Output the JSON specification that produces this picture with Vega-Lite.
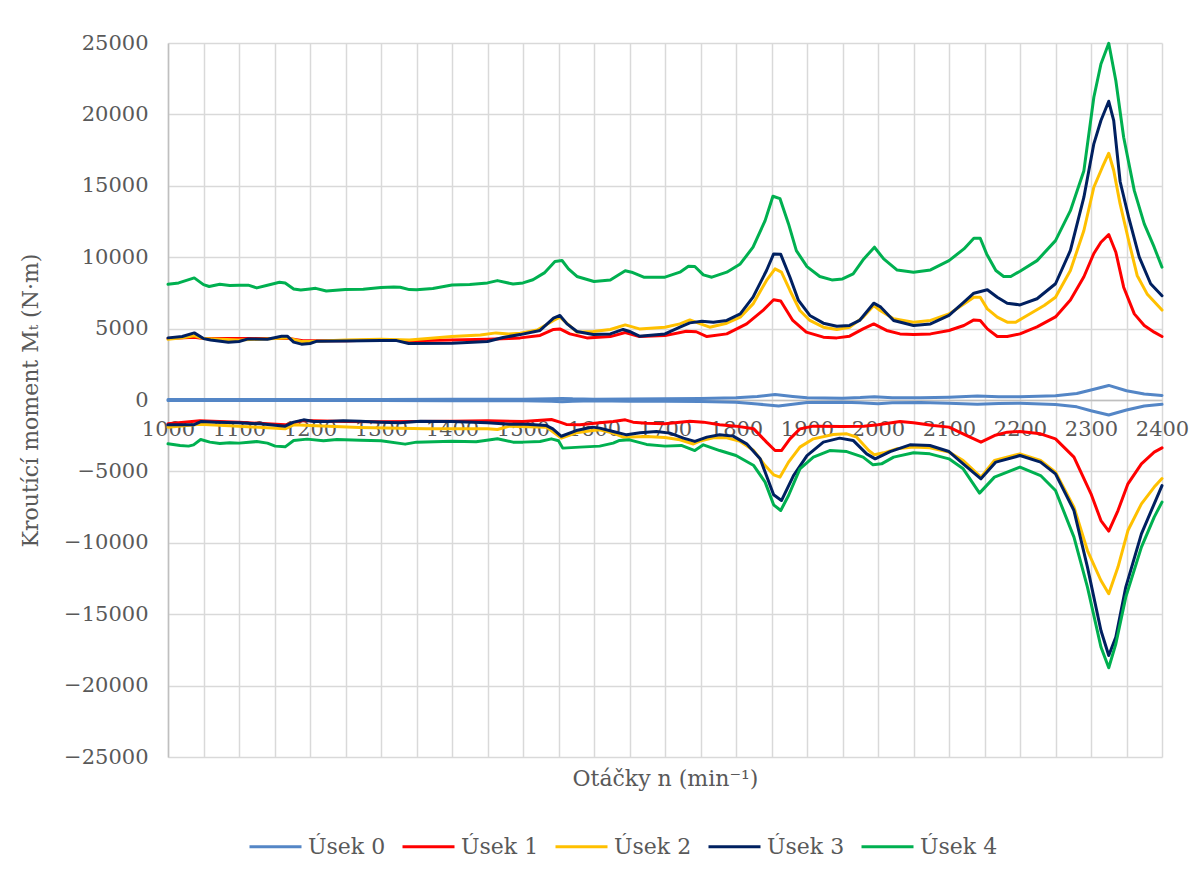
{
  "$schema": "https://vega.github.io/schema/vega-lite/v6.json",
  "width": 994,
  "height": 714,
  "autosize": {"type": "none"},
  "padding": {"left": 168, "top": 43, "right": 41, "bottom": 118},
  "background": "white",
  "config": {
    "view": {"stroke": null},
    "font": "DejaVu Serif"
  },
  "datasets": {
    "upper": [
      {"n":1000,"s":"Úsek 0","v":30},{"n":1100,"s":"Úsek 0","v":30},{"n":1200,"s":"Úsek 0","v":40},{"n":1300,"s":"Úsek 0","v":40},{"n":1400,"s":"Úsek 0","v":50},{"n":1500,"s":"Úsek 0","v":60},{"n":1540,"s":"Úsek 0","v":90},{"n":1555,"s":"Úsek 0","v":110},{"n":1570,"s":"Úsek 0","v":80},{"n":1600,"s":"Úsek 0","v":60},{"n":1650,"s":"Úsek 0","v":70},{"n":1700,"s":"Úsek 0","v":80},{"n":1750,"s":"Úsek 0","v":100},{"n":1800,"s":"Úsek 0","v":150},{"n":1830,"s":"Úsek 0","v":250},{"n":1855,"s":"Úsek 0","v":380},{"n":1880,"s":"Úsek 0","v":250},{"n":1900,"s":"Úsek 0","v":150},{"n":1950,"s":"Úsek 0","v":130},{"n":1975,"s":"Úsek 0","v":170},{"n":1995,"s":"Úsek 0","v":230},{"n":2020,"s":"Úsek 0","v":160},{"n":2060,"s":"Úsek 0","v":150},{"n":2100,"s":"Úsek 0","v":200},{"n":2140,"s":"Úsek 0","v":280},{"n":2170,"s":"Úsek 0","v":220},{"n":2200,"s":"Úsek 0","v":220},{"n":2250,"s":"Úsek 0","v":300},{"n":2280,"s":"Úsek 0","v":450},{"n":2300,"s":"Úsek 0","v":700},{"n":2325,"s":"Úsek 0","v":1020},{"n":2350,"s":"Úsek 0","v":650},{"n":2375,"s":"Úsek 0","v":420},{"n":2400,"s":"Úsek 0","v":320},

      {"n":1000,"s":"Úsek 1","v":4300},{"n":1037,"s":"Úsek 1","v":4400},{"n":1050,"s":"Úsek 1","v":4300},{"n":1100,"s":"Úsek 1","v":4300},{"n":1150,"s":"Úsek 1","v":4300},{"n":1170,"s":"Úsek 1","v":4300},{"n":1190,"s":"Úsek 1","v":4150},{"n":1250,"s":"Úsek 1","v":4150},{"n":1300,"s":"Úsek 1","v":4200},{"n":1340,"s":"Úsek 1","v":4150},{"n":1400,"s":"Úsek 1","v":4200},{"n":1450,"s":"Úsek 1","v":4250},{"n":1480,"s":"Úsek 1","v":4300},{"n":1496,"s":"Úsek 1","v":4350},{"n":1524,"s":"Úsek 1","v":4520},{"n":1543,"s":"Úsek 1","v":4940},{"n":1552,"s":"Úsek 1","v":4980},{"n":1566,"s":"Úsek 1","v":4630},{"n":1590,"s":"Úsek 1","v":4350},{"n":1623,"s":"Úsek 1","v":4440},{"n":1644,"s":"Úsek 1","v":4730},{"n":1664,"s":"Úsek 1","v":4440},{"n":1700,"s":"Úsek 1","v":4510},{"n":1730,"s":"Úsek 1","v":4820},{"n":1744,"s":"Úsek 1","v":4780},{"n":1759,"s":"Úsek 1","v":4440},{"n":1787,"s":"Úsek 1","v":4630},{"n":1815,"s":"Úsek 1","v":5330},{"n":1838,"s":"Úsek 1","v":6270},{"n":1853,"s":"Úsek 1","v":7020},{"n":1863,"s":"Úsek 1","v":6930},{"n":1880,"s":"Úsek 1","v":5570},{"n":1899,"s":"Úsek 1","v":4750},{"n":1923,"s":"Úsek 1","v":4400},{"n":1942,"s":"Úsek 1","v":4350},{"n":1960,"s":"Úsek 1","v":4470},{"n":1979,"s":"Úsek 1","v":4980},{"n":1994,"s":"Úsek 1","v":5330},{"n":2012,"s":"Úsek 1","v":4870},{"n":2031,"s":"Úsek 1","v":4630},{"n":2050,"s":"Úsek 1","v":4590},{"n":2074,"s":"Úsek 1","v":4630},{"n":2100,"s":"Úsek 1","v":4870},{"n":2121,"s":"Úsek 1","v":5220},{"n":2135,"s":"Úsek 1","v":5610},{"n":2144,"s":"Úsek 1","v":5570},{"n":2154,"s":"Úsek 1","v":4980},{"n":2168,"s":"Úsek 1","v":4450},{"n":2182,"s":"Úsek 1","v":4450},{"n":2200,"s":"Úsek 1","v":4630},{"n":2224,"s":"Úsek 1","v":5120},{"n":2250,"s":"Úsek 1","v":5820},{"n":2271,"s":"Úsek 1","v":7000},{"n":2290,"s":"Úsek 1","v":8630},{"n":2304,"s":"Úsek 1","v":10260},{"n":2314,"s":"Úsek 1","v":11050},{"n":2325,"s":"Úsek 1","v":11590},{"n":2335,"s":"Úsek 1","v":10350},{"n":2346,"s":"Úsek 1","v":7900},{"n":2361,"s":"Úsek 1","v":6030},{"n":2375,"s":"Úsek 1","v":5220},{"n":2389,"s":"Úsek 1","v":4750},{"n":2400,"s":"Úsek 1","v":4450},

      {"n":1000,"s":"Úsek 2","v":4250},{"n":1020,"s":"Úsek 2","v":4350},{"n":1037,"s":"Úsek 2","v":4500},{"n":1050,"s":"Úsek 2","v":4300},{"n":1100,"s":"Úsek 2","v":4200},{"n":1150,"s":"Úsek 2","v":4300},{"n":1168,"s":"Úsek 2","v":4350},{"n":1188,"s":"Úsek 2","v":4100},{"n":1200,"s":"Úsek 2","v":4100},{"n":1250,"s":"Úsek 2","v":4200},{"n":1300,"s":"Úsek 2","v":4250},{"n":1340,"s":"Úsek 2","v":4200},{"n":1400,"s":"Úsek 2","v":4450},{"n":1440,"s":"Úsek 2","v":4550},{"n":1462,"s":"Úsek 2","v":4700},{"n":1480,"s":"Úsek 2","v":4620},{"n":1496,"s":"Úsek 2","v":4680},{"n":1520,"s":"Úsek 2","v":4900},{"n":1543,"s":"Úsek 2","v":5570},{"n":1552,"s":"Úsek 2","v":5800},{"n":1576,"s":"Úsek 2","v":4750},{"n":1599,"s":"Úsek 2","v":4800},{"n":1623,"s":"Úsek 2","v":4940},{"n":1644,"s":"Úsek 2","v":5260},{"n":1664,"s":"Úsek 2","v":4980},{"n":1700,"s":"Úsek 2","v":5100},{"n":1721,"s":"Úsek 2","v":5330},{"n":1735,"s":"Úsek 2","v":5610},{"n":1749,"s":"Úsek 2","v":5350},{"n":1763,"s":"Úsek 2","v":5100},{"n":1787,"s":"Úsek 2","v":5380},{"n":1806,"s":"Úsek 2","v":5800},{"n":1824,"s":"Úsek 2","v":6730},{"n":1843,"s":"Úsek 2","v":8370},{"n":1855,"s":"Úsek 2","v":9180},{"n":1864,"s":"Úsek 2","v":8950},{"n":1876,"s":"Úsek 2","v":7670},{"n":1890,"s":"Úsek 2","v":6270},{"n":1904,"s":"Úsek 2","v":5570},{"n":1923,"s":"Úsek 2","v":5100},{"n":1942,"s":"Úsek 2","v":4940},{"n":1960,"s":"Úsek 2","v":5100},{"n":1979,"s":"Úsek 2","v":5800},{"n":1994,"s":"Úsek 2","v":6620},{"n":2003,"s":"Úsek 2","v":6270},{"n":2022,"s":"Úsek 2","v":5690},{"n":2050,"s":"Úsek 2","v":5450},{"n":2074,"s":"Úsek 2","v":5570},{"n":2100,"s":"Úsek 2","v":6030},{"n":2121,"s":"Úsek 2","v":6730},{"n":2135,"s":"Úsek 2","v":7200},{"n":2144,"s":"Úsek 2","v":7200},{"n":2154,"s":"Úsek 2","v":6380},{"n":2168,"s":"Úsek 2","v":5800},{"n":2182,"s":"Úsek 2","v":5450},{"n":2194,"s":"Úsek 2","v":5450},{"n":2210,"s":"Úsek 2","v":5920},{"n":2234,"s":"Úsek 2","v":6620},{"n":2250,"s":"Úsek 2","v":7200},{"n":2271,"s":"Úsek 2","v":9070},{"n":2290,"s":"Úsek 2","v":11870},{"n":2304,"s":"Úsek 2","v":14900},{"n":2316,"s":"Úsek 2","v":16300},{"n":2325,"s":"Úsek 2","v":17280},{"n":2332,"s":"Úsek 2","v":16070},{"n":2341,"s":"Úsek 2","v":13730},{"n":2353,"s":"Úsek 2","v":11170},{"n":2365,"s":"Úsek 2","v":8720},{"n":2379,"s":"Úsek 2","v":7430},{"n":2400,"s":"Úsek 2","v":6300},

      {"n":1000,"s":"Úsek 3","v":4350},{"n":1020,"s":"Úsek 3","v":4450},{"n":1037,"s":"Úsek 3","v":4700},{"n":1050,"s":"Úsek 3","v":4300},{"n":1060,"s":"Úsek 3","v":4200},{"n":1085,"s":"Úsek 3","v":4050},{"n":1100,"s":"Úsek 3","v":4100},{"n":1113,"s":"Úsek 3","v":4280},{"n":1140,"s":"Úsek 3","v":4260},{"n":1160,"s":"Úsek 3","v":4470},{"n":1168,"s":"Úsek 3","v":4470},{"n":1177,"s":"Úsek 3","v":4050},{"n":1188,"s":"Úsek 3","v":3910},{"n":1200,"s":"Úsek 3","v":3960},{"n":1210,"s":"Úsek 3","v":4120},{"n":1250,"s":"Úsek 3","v":4140},{"n":1300,"s":"Úsek 3","v":4160},{"n":1322,"s":"Úsek 3","v":4160},{"n":1339,"s":"Úsek 3","v":3960},{"n":1400,"s":"Úsek 3","v":3980},{"n":1450,"s":"Úsek 3","v":4100},{"n":1472,"s":"Úsek 3","v":4380},{"n":1496,"s":"Úsek 3","v":4580},{"n":1524,"s":"Úsek 3","v":4870},{"n":1543,"s":"Úsek 3","v":5730},{"n":1552,"s":"Úsek 3","v":5920},{"n":1562,"s":"Úsek 3","v":5330},{"n":1576,"s":"Úsek 3","v":4800},{"n":1599,"s":"Úsek 3","v":4590},{"n":1623,"s":"Úsek 3","v":4630},{"n":1641,"s":"Úsek 3","v":4940},{"n":1650,"s":"Úsek 3","v":4800},{"n":1664,"s":"Úsek 3","v":4470},{"n":1700,"s":"Úsek 3","v":4630},{"n":1721,"s":"Úsek 3","v":5100},{"n":1735,"s":"Úsek 3","v":5400},{"n":1752,"s":"Úsek 3","v":5520},{"n":1768,"s":"Úsek 3","v":5450},{"n":1787,"s":"Úsek 3","v":5570},{"n":1806,"s":"Úsek 3","v":6030},{"n":1824,"s":"Úsek 3","v":7200},{"n":1843,"s":"Úsek 3","v":9070},{"n":1853,"s":"Úsek 3","v":10230},{"n":1863,"s":"Úsek 3","v":10200},{"n":1876,"s":"Úsek 3","v":8600},{"n":1888,"s":"Úsek 3","v":6970},{"n":1904,"s":"Úsek 3","v":5920},{"n":1923,"s":"Úsek 3","v":5380},{"n":1942,"s":"Úsek 3","v":5170},{"n":1960,"s":"Úsek 3","v":5220},{"n":1974,"s":"Úsek 3","v":5570},{"n":1994,"s":"Úsek 3","v":6780},{"n":2004,"s":"Úsek 3","v":6500},{"n":2022,"s":"Úsek 3","v":5570},{"n":2050,"s":"Úsek 3","v":5220},{"n":2074,"s":"Úsek 3","v":5330},{"n":2100,"s":"Úsek 3","v":5920},{"n":2121,"s":"Úsek 3","v":6850},{"n":2135,"s":"Úsek 3","v":7480},{"n":2154,"s":"Úsek 3","v":7720},{"n":2168,"s":"Úsek 3","v":7200},{"n":2182,"s":"Úsek 3","v":6780},{"n":2200,"s":"Úsek 3","v":6660},{"n":2224,"s":"Úsek 3","v":7090},{"n":2250,"s":"Úsek 3","v":8140},{"n":2271,"s":"Úsek 3","v":10470},{"n":2290,"s":"Úsek 3","v":14200},{"n":2304,"s":"Úsek 3","v":17940},{"n":2314,"s":"Úsek 3","v":19570},{"n":2325,"s":"Úsek 3","v":20920},{"n":2332,"s":"Úsek 3","v":19570},{"n":2341,"s":"Úsek 3","v":15300},{"n":2353,"s":"Úsek 3","v":12800},{"n":2368,"s":"Úsek 3","v":10000},{"n":2384,"s":"Úsek 3","v":8140},{"n":2400,"s":"Úsek 3","v":7300},

      {"n":1000,"s":"Úsek 4","v":8100},{"n":1015,"s":"Úsek 4","v":8200},{"n":1037,"s":"Úsek 4","v":8550},{"n":1050,"s":"Úsek 4","v":8080},{"n":1058,"s":"Úsek 4","v":7950},{"n":1073,"s":"Úsek 4","v":8100},{"n":1087,"s":"Úsek 4","v":8020},{"n":1100,"s":"Úsek 4","v":8040},{"n":1113,"s":"Úsek 4","v":8040},{"n":1125,"s":"Úsek 4","v":7850},{"n":1140,"s":"Úsek 4","v":8040},{"n":1157,"s":"Úsek 4","v":8250},{"n":1165,"s":"Úsek 4","v":8200},{"n":1177,"s":"Úsek 4","v":7780},{"n":1187,"s":"Úsek 4","v":7700},{"n":1200,"s":"Úsek 4","v":7780},{"n":1208,"s":"Úsek 4","v":7820},{"n":1223,"s":"Úsek 4","v":7630},{"n":1250,"s":"Úsek 4","v":7730},{"n":1275,"s":"Úsek 4","v":7760},{"n":1300,"s":"Úsek 4","v":7880},{"n":1318,"s":"Úsek 4","v":7920},{"n":1327,"s":"Úsek 4","v":7900},{"n":1340,"s":"Úsek 4","v":7730},{"n":1350,"s":"Úsek 4","v":7720},{"n":1373,"s":"Úsek 4","v":7810},{"n":1400,"s":"Úsek 4","v":8050},{"n":1425,"s":"Úsek 4","v":8080},{"n":1450,"s":"Úsek 4","v":8200},{"n":1464,"s":"Úsek 4","v":8360},{"n":1486,"s":"Úsek 4","v":8120},{"n":1500,"s":"Úsek 4","v":8200},{"n":1514,"s":"Úsek 4","v":8420},{"n":1530,"s":"Úsek 4","v":8900},{"n":1545,"s":"Úsek 4","v":9700},{"n":1555,"s":"Úsek 4","v":9770},{"n":1564,"s":"Úsek 4","v":9180},{"n":1576,"s":"Úsek 4","v":8650},{"n":1600,"s":"Úsek 4","v":8300},{"n":1623,"s":"Úsek 4","v":8400},{"n":1644,"s":"Úsek 4","v":9050},{"n":1653,"s":"Úsek 4","v":8950},{"n":1670,"s":"Úsek 4","v":8600},{"n":1700,"s":"Úsek 4","v":8600},{"n":1721,"s":"Úsek 4","v":8950},{"n":1733,"s":"Úsek 4","v":9370},{"n":1742,"s":"Úsek 4","v":9350},{"n":1754,"s":"Úsek 4","v":8760},{"n":1766,"s":"Úsek 4","v":8600},{"n":1787,"s":"Úsek 4","v":8950},{"n":1806,"s":"Úsek 4","v":9530},{"n":1824,"s":"Úsek 4","v":10700},{"n":1841,"s":"Úsek 4","v":12560},{"n":1852,"s":"Úsek 4","v":14270},{"n":1862,"s":"Úsek 4","v":14100},{"n":1874,"s":"Úsek 4","v":12330},{"n":1885,"s":"Úsek 4","v":10460},{"n":1900,"s":"Úsek 4","v":9340},{"n":1918,"s":"Úsek 4","v":8650},{"n":1935,"s":"Úsek 4","v":8410},{"n":1950,"s":"Úsek 4","v":8480},{"n":1965,"s":"Úsek 4","v":8830},{"n":1980,"s":"Úsek 4","v":9880},{"n":1995,"s":"Úsek 4","v":10700},{"n":2008,"s":"Úsek 4","v":9880},{"n":2027,"s":"Úsek 4","v":9100},{"n":2050,"s":"Úsek 4","v":8950},{"n":2074,"s":"Úsek 4","v":9110},{"n":2100,"s":"Úsek 4","v":9760},{"n":2121,"s":"Úsek 4","v":10580},{"n":2135,"s":"Úsek 4","v":11330},{"n":2144,"s":"Úsek 4","v":11330},{"n":2153,"s":"Úsek 4","v":10230},{"n":2166,"s":"Úsek 4","v":9070},{"n":2177,"s":"Úsek 4","v":8650},{"n":2187,"s":"Úsek 4","v":8650},{"n":2200,"s":"Úsek 4","v":9020},{"n":2224,"s":"Úsek 4","v":9760},{"n":2250,"s":"Úsek 4","v":11160},{"n":2271,"s":"Úsek 4","v":13260},{"n":2290,"s":"Úsek 4","v":16060},{"n":2304,"s":"Úsek 4","v":21200},{"n":2314,"s":"Úsek 4","v":23530},{"n":2325,"s":"Úsek 4","v":24980},{"n":2335,"s":"Úsek 4","v":22360},{"n":2346,"s":"Úsek 4","v":18400},{"n":2361,"s":"Úsek 4","v":14660},{"n":2375,"s":"Úsek 4","v":12330},{"n":2389,"s":"Úsek 4","v":10700},{"n":2400,"s":"Úsek 4","v":9300}
    ],
    "lower": [
      {"n":1000,"s":"Úsek 0","v":-30},{"n":1100,"s":"Úsek 0","v":-30},{"n":1200,"s":"Úsek 0","v":-40},{"n":1300,"s":"Úsek 0","v":-40},{"n":1400,"s":"Úsek 0","v":-50},{"n":1500,"s":"Úsek 0","v":-60},{"n":1540,"s":"Úsek 0","v":-90},{"n":1555,"s":"Úsek 0","v":-130},{"n":1570,"s":"Úsek 0","v":-90},{"n":1600,"s":"Úsek 0","v":-60},{"n":1650,"s":"Úsek 0","v":-80},{"n":1700,"s":"Úsek 0","v":-90},{"n":1750,"s":"Úsek 0","v":-110},{"n":1800,"s":"Úsek 0","v":-160},{"n":1830,"s":"Úsek 0","v":-280},{"n":1860,"s":"Úsek 0","v":-420},{"n":1880,"s":"Úsek 0","v":-300},{"n":1900,"s":"Úsek 0","v":-180},{"n":1950,"s":"Úsek 0","v":-150},{"n":1975,"s":"Úsek 0","v":-200},{"n":2000,"s":"Úsek 0","v":-260},{"n":2020,"s":"Úsek 0","v":-200},{"n":2060,"s":"Úsek 0","v":-170},{"n":2100,"s":"Úsek 0","v":-220},{"n":2140,"s":"Úsek 0","v":-300},{"n":2170,"s":"Úsek 0","v":-240},{"n":2200,"s":"Úsek 0","v":-230},{"n":2250,"s":"Úsek 0","v":-320},{"n":2280,"s":"Úsek 0","v":-480},{"n":2300,"s":"Úsek 0","v":-750},{"n":2325,"s":"Úsek 0","v":-1050},{"n":2350,"s":"Úsek 0","v":-700},{"n":2375,"s":"Úsek 0","v":-420},{"n":2400,"s":"Úsek 0","v":-300},

      {"n":1000,"s":"Úsek 1","v":-1670},{"n":1045,"s":"Úsek 1","v":-1460},{"n":1100,"s":"Úsek 1","v":-1550},{"n":1165,"s":"Úsek 1","v":-1740},{"n":1190,"s":"Úsek 1","v":-1440},{"n":1250,"s":"Úsek 1","v":-1500},{"n":1300,"s":"Úsek 1","v":-1520},{"n":1400,"s":"Úsek 1","v":-1480},{"n":1450,"s":"Úsek 1","v":-1460},{"n":1500,"s":"Úsek 1","v":-1505},{"n":1540,"s":"Úsek 1","v":-1365},{"n":1552,"s":"Úsek 1","v":-1550},{"n":1561,"s":"Úsek 1","v":-1710},{"n":1580,"s":"Úsek 1","v":-1740},{"n":1608,"s":"Úsek 1","v":-1600},{"n":1627,"s":"Úsek 1","v":-1505},{"n":1644,"s":"Úsek 1","v":-1390},{"n":1655,"s":"Úsek 1","v":-1550},{"n":1674,"s":"Úsek 1","v":-1620},{"n":1700,"s":"Úsek 1","v":-1670},{"n":1735,"s":"Úsek 1","v":-1480},{"n":1754,"s":"Úsek 1","v":-1550},{"n":1777,"s":"Úsek 1","v":-1740},{"n":1800,"s":"Úsek 1","v":-1830},{"n":1825,"s":"Úsek 1","v":-2020},{"n":1843,"s":"Úsek 1","v":-2950},{"n":1855,"s":"Úsek 1","v":-3540},{"n":1864,"s":"Úsek 1","v":-3540},{"n":1876,"s":"Úsek 1","v":-2720},{"n":1890,"s":"Úsek 1","v":-2020},{"n":1909,"s":"Úsek 1","v":-1830},{"n":1950,"s":"Úsek 1","v":-1860},{"n":1980,"s":"Úsek 1","v":-1830},{"n":2000,"s":"Úsek 1","v":-1740},{"n":2031,"s":"Úsek 1","v":-1505},{"n":2050,"s":"Úsek 1","v":-1600},{"n":2078,"s":"Úsek 1","v":-1790},{"n":2100,"s":"Úsek 1","v":-1900},{"n":2125,"s":"Úsek 1","v":-2490},{"n":2145,"s":"Úsek 1","v":-2950},{"n":2164,"s":"Úsek 1","v":-2490},{"n":2182,"s":"Úsek 1","v":-2250},{"n":2200,"s":"Úsek 1","v":-2200},{"n":2229,"s":"Úsek 1","v":-2370},{"n":2250,"s":"Úsek 1","v":-2720},{"n":2276,"s":"Úsek 1","v":-4000},{"n":2300,"s":"Úsek 1","v":-6570},{"n":2314,"s":"Úsek 1","v":-8440},{"n":2325,"s":"Úsek 1","v":-9180},{"n":2338,"s":"Úsek 1","v":-7740},{"n":2352,"s":"Úsek 1","v":-5870},{"n":2371,"s":"Úsek 1","v":-4470},{"n":2389,"s":"Úsek 1","v":-3650},{"n":2400,"s":"Úsek 1","v":-3350},

      {"n":1000,"s":"Úsek 2","v":-1900},{"n":1045,"s":"Úsek 2","v":-1690},{"n":1100,"s":"Úsek 2","v":-1830},{"n":1165,"s":"Úsek 2","v":-2020},{"n":1177,"s":"Úsek 2","v":-1740},{"n":1200,"s":"Úsek 2","v":-1780},{"n":1270,"s":"Úsek 2","v":-1920},{"n":1364,"s":"Úsek 2","v":-2020},{"n":1450,"s":"Úsek 2","v":-2020},{"n":1464,"s":"Úsek 2","v":-2070},{"n":1481,"s":"Úsek 2","v":-1830},{"n":1533,"s":"Úsek 2","v":-1900},{"n":1554,"s":"Úsek 2","v":-2670},{"n":1575,"s":"Úsek 2","v":-2300},{"n":1598,"s":"Úsek 2","v":-2140},{"n":1608,"s":"Úsek 2","v":-2090},{"n":1627,"s":"Úsek 2","v":-2320},{"n":1641,"s":"Úsek 2","v":-2600},{"n":1674,"s":"Úsek 2","v":-2550},{"n":1700,"s":"Úsek 2","v":-2620},{"n":1721,"s":"Úsek 2","v":-2780},{"n":1740,"s":"Úsek 2","v":-3080},{"n":1749,"s":"Úsek 2","v":-2880},{"n":1768,"s":"Úsek 2","v":-2650},{"n":1787,"s":"Úsek 2","v":-2650},{"n":1806,"s":"Úsek 2","v":-2900},{"n":1825,"s":"Úsek 2","v":-3540},{"n":1841,"s":"Úsek 2","v":-4590},{"n":1853,"s":"Úsek 2","v":-5240},{"n":1862,"s":"Úsek 2","v":-5400},{"n":1874,"s":"Úsek 2","v":-4350},{"n":1890,"s":"Úsek 2","v":-3300},{"n":1909,"s":"Úsek 2","v":-2720},{"n":1937,"s":"Úsek 2","v":-2420},{"n":1956,"s":"Úsek 2","v":-2370},{"n":1970,"s":"Úsek 2","v":-2600},{"n":1987,"s":"Úsek 2","v":-3540},{"n":1995,"s":"Úsek 2","v":-3840},{"n":2008,"s":"Úsek 2","v":-3700},{"n":2026,"s":"Úsek 2","v":-3420},{"n":2050,"s":"Úsek 2","v":-3300},{"n":2073,"s":"Úsek 2","v":-3350},{"n":2100,"s":"Úsek 2","v":-3650},{"n":2120,"s":"Úsek 2","v":-4240},{"n":2145,"s":"Úsek 2","v":-5400},{"n":2164,"s":"Úsek 2","v":-4240},{"n":2200,"s":"Úsek 2","v":-3770},{"n":2229,"s":"Úsek 2","v":-4240},{"n":2250,"s":"Úsek 2","v":-5050},{"n":2276,"s":"Úsek 2","v":-7500},{"n":2295,"s":"Úsek 2","v":-10540},{"n":2314,"s":"Úsek 2","v":-12640},{"n":2325,"s":"Úsek 2","v":-13570},{"n":2338,"s":"Úsek 2","v":-11700},{"n":2352,"s":"Úsek 2","v":-9140},{"n":2371,"s":"Úsek 2","v":-7270},{"n":2389,"s":"Úsek 2","v":-6100},{"n":2400,"s":"Úsek 2","v":-5500},

      {"n":1000,"s":"Úsek 3","v":-1740},{"n":1036,"s":"Úsek 3","v":-1740},{"n":1047,"s":"Úsek 3","v":-1505},{"n":1068,"s":"Úsek 3","v":-1550},{"n":1100,"s":"Úsek 3","v":-1600},{"n":1130,"s":"Úsek 3","v":-1670},{"n":1165,"s":"Úsek 3","v":-1830},{"n":1177,"s":"Úsek 3","v":-1550},{"n":1191,"s":"Úsek 3","v":-1390},{"n":1205,"s":"Úsek 3","v":-1505},{"n":1224,"s":"Úsek 3","v":-1505},{"n":1247,"s":"Úsek 3","v":-1460},{"n":1271,"s":"Úsek 3","v":-1480},{"n":1300,"s":"Úsek 3","v":-1550},{"n":1327,"s":"Úsek 3","v":-1600},{"n":1355,"s":"Úsek 3","v":-1480},{"n":1400,"s":"Úsek 3","v":-1500},{"n":1450,"s":"Úsek 3","v":-1600},{"n":1481,"s":"Úsek 3","v":-1690},{"n":1505,"s":"Úsek 3","v":-1690},{"n":1533,"s":"Úsek 3","v":-1790},{"n":1542,"s":"Úsek 3","v":-2020},{"n":1554,"s":"Úsek 3","v":-2540},{"n":1575,"s":"Úsek 3","v":-2140},{"n":1598,"s":"Úsek 3","v":-1900},{"n":1608,"s":"Úsek 3","v":-1970},{"n":1627,"s":"Úsek 3","v":-2210},{"n":1646,"s":"Úsek 3","v":-2440},{"n":1665,"s":"Úsek 3","v":-2300},{"n":1688,"s":"Úsek 3","v":-2210},{"n":1707,"s":"Úsek 3","v":-2320},{"n":1726,"s":"Úsek 3","v":-2670},{"n":1742,"s":"Úsek 3","v":-2900},{"n":1759,"s":"Úsek 3","v":-2600},{"n":1777,"s":"Úsek 3","v":-2440},{"n":1796,"s":"Úsek 3","v":-2530},{"n":1815,"s":"Úsek 3","v":-3070},{"n":1834,"s":"Úsek 3","v":-4120},{"n":1853,"s":"Úsek 3","v":-6640},{"n":1864,"s":"Úsek 3","v":-7040},{"n":1881,"s":"Úsek 3","v":-5290},{"n":1900,"s":"Úsek 3","v":-3890},{"n":1923,"s":"Úsek 3","v":-2950},{"n":1946,"s":"Úsek 3","v":-2670},{"n":1965,"s":"Úsek 3","v":-2830},{"n":1984,"s":"Úsek 3","v":-3770},{"n":1996,"s":"Úsek 3","v":-4120},{"n":2017,"s":"Úsek 3","v":-3610},{"n":2045,"s":"Úsek 3","v":-3140},{"n":2073,"s":"Úsek 3","v":-3190},{"n":2100,"s":"Úsek 3","v":-3610},{"n":2120,"s":"Úsek 3","v":-4470},{"n":2145,"s":"Úsek 3","v":-5520},{"n":2166,"s":"Úsek 3","v":-4350},{"n":2200,"s":"Úsek 3","v":-3890},{"n":2229,"s":"Úsek 3","v":-4350},{"n":2250,"s":"Úsek 3","v":-5170},{"n":2276,"s":"Úsek 3","v":-7740},{"n":2295,"s":"Úsek 3","v":-11700},{"n":2314,"s":"Úsek 3","v":-16140},{"n":2325,"s":"Úsek 3","v":-17890},{"n":2335,"s":"Úsek 3","v":-16600},{"n":2349,"s":"Úsek 3","v":-13100},{"n":2371,"s":"Úsek 3","v":-9370},{"n":2389,"s":"Úsek 3","v":-7270},{"n":2400,"s":"Úsek 3","v":-6000},

      {"n":1000,"s":"Úsek 4","v":-3070},{"n":1017,"s":"Úsek 4","v":-3190},{"n":1029,"s":"Úsek 4","v":-3230},{"n":1036,"s":"Úsek 4","v":-3140},{"n":1046,"s":"Úsek 4","v":-2770},{"n":1059,"s":"Úsek 4","v":-2950},{"n":1073,"s":"Úsek 4","v":-3050},{"n":1087,"s":"Úsek 4","v":-2990},{"n":1100,"s":"Úsek 4","v":-3020},{"n":1125,"s":"Úsek 4","v":-2910},{"n":1140,"s":"Úsek 4","v":-3020},{"n":1151,"s":"Úsek 4","v":-3230},{"n":1165,"s":"Úsek 4","v":-3280},{"n":1177,"s":"Úsek 4","v":-2840},{"n":1196,"s":"Úsek 4","v":-2740},{"n":1219,"s":"Úsek 4","v":-2860},{"n":1238,"s":"Úsek 4","v":-2770},{"n":1271,"s":"Úsek 4","v":-2810},{"n":1300,"s":"Úsek 4","v":-2860},{"n":1334,"s":"Úsek 4","v":-3090},{"n":1350,"s":"Úsek 4","v":-2950},{"n":1400,"s":"Úsek 4","v":-2880},{"n":1434,"s":"Úsek 4","v":-2930},{"n":1464,"s":"Úsek 4","v":-2720},{"n":1486,"s":"Úsek 4","v":-2950},{"n":1500,"s":"Úsek 4","v":-2950},{"n":1524,"s":"Úsek 4","v":-2900},{"n":1540,"s":"Úsek 4","v":-2720},{"n":1550,"s":"Úsek 4","v":-2850},{"n":1556,"s":"Úsek 4","v":-3370},{"n":1580,"s":"Úsek 4","v":-3300},{"n":1608,"s":"Úsek 4","v":-3230},{"n":1627,"s":"Úsek 4","v":-3020},{"n":1636,"s":"Úsek 4","v":-2830},{"n":1650,"s":"Úsek 4","v":-2790},{"n":1674,"s":"Úsek 4","v":-3110},{"n":1700,"s":"Úsek 4","v":-3230},{"n":1723,"s":"Úsek 4","v":-3180},{"n":1742,"s":"Úsek 4","v":-3540},{"n":1754,"s":"Úsek 4","v":-3140},{"n":1777,"s":"Úsek 4","v":-3540},{"n":1800,"s":"Úsek 4","v":-3890},{"n":1825,"s":"Úsek 4","v":-4590},{"n":1841,"s":"Úsek 4","v":-5750},{"n":1853,"s":"Úsek 4","v":-7340},{"n":1863,"s":"Úsek 4","v":-7740},{"n":1874,"s":"Úsek 4","v":-6690},{"n":1890,"s":"Úsek 4","v":-4820},{"n":1909,"s":"Úsek 4","v":-4000},{"n":1932,"s":"Úsek 4","v":-3540},{"n":1956,"s":"Úsek 4","v":-3610},{"n":1979,"s":"Úsek 4","v":-4000},{"n":1993,"s":"Úsek 4","v":-4540},{"n":2005,"s":"Úsek 4","v":-4470},{"n":2022,"s":"Úsek 4","v":-4000},{"n":2050,"s":"Úsek 4","v":-3700},{"n":2073,"s":"Úsek 4","v":-3770},{"n":2100,"s":"Úsek 4","v":-4120},{"n":2120,"s":"Úsek 4","v":-4820},{"n":2143,"s":"Úsek 4","v":-6520},{"n":2164,"s":"Úsek 4","v":-5400},{"n":2200,"s":"Úsek 4","v":-4700},{"n":2229,"s":"Úsek 4","v":-5290},{"n":2250,"s":"Úsek 4","v":-6340},{"n":2276,"s":"Úsek 4","v":-9600},{"n":2295,"s":"Úsek 4","v":-13100},{"n":2314,"s":"Úsek 4","v":-17300},{"n":2325,"s":"Úsek 4","v":-18750},{"n":2335,"s":"Úsek 4","v":-17070},{"n":2349,"s":"Úsek 4","v":-13800},{"n":2371,"s":"Úsek 4","v":-10300},{"n":2389,"s":"Úsek 4","v":-8200},{"n":2400,"s":"Úsek 4","v":-7150}
    ]
  },
  "resolve": {"axis": {"x": "independent"}},
  "layer": [
    {
      "data": {"name": "upper"},
      "mark": {"type": "line", "strokeWidth": 3, "strokeJoin": "round", "strokeCap": "round"},
      "encoding": {
        "x": {
          "field": "n", "type": "quantitative",
          "scale": {"domain": [1000, 2400], "nice": false, "zero": false},
          "axis": {
            "orient": "bottom",
            "values": [1000,1050,1100,1150,1200,1250,1300,1350,1400,1450,1500,1550,1600,1650,1700,1750,1800,1850,1900,1950,2000,2050,2100,2150,2200,2250,2300,2350,2400],
            "grid": true, "gridColor": "#D9D9D9", "gridWidth": 1.5,
            "labels": false, "ticks": false, "domain": false,
            "title": "Otáčky n (min⁻¹)",
            "titleFont": "DejaVu Serif", "titleFontSize": 22, "titleFontWeight": "normal",
            "titleColor": "#595959", "titleY": 21, "titleBaseline": "middle"
          }
        },
        "y": {
          "field": "v", "type": "quantitative",
          "scale": {"domain": [-25000, 25000], "nice": false},
          "axis": {
            "values": [-25000,-20000,-15000,-10000,-5000,0,5000,10000,15000,20000,25000],
            "format": "d",
            "grid": true, "gridColor": "#D9D9D9", "gridWidth": 1.5,
            "ticks": false, "domain": true, "domainColor": "#BFBFBF", "domainWidth": 1.5,
            "labelFont": "DejaVu Serif", "labelFontSize": 21, "labelColor": "#595959", "labelPadding": 20,
            "title": "Kroutící moment Mₜ (N·m)",
            "titleFont": "DejaVu Serif", "titleFontSize": 22, "titleFontWeight": "normal",
            "titleColor": "#595959", "titleX": -138, "titleY": 357, "titleAngle": -90,
            "titleAlign": "center", "titleBaseline": "middle"
          }
        },
        "color": {
          "field": "s", "type": "nominal",
          "scale": {
            "domain": ["Úsek 0", "Úsek 1", "Úsek 2", "Úsek 3", "Úsek 4"],
            "range": ["#5486C6", "#FF0000", "#FFC000", "#002060", "#00B050"]
          },
          "legend": {
            "title": null, "orient": "none", "legendX": 80, "legendY": 776,
            "direction": "horizontal", "columns": 5,
            "symbolType": "stroke", "symbolSize": 2704, "symbolStrokeWidth": 3,
            "labelFont": "DejaVu Serif", "labelFontSize": 22, "labelColor": "#595959",
            "labelOffset": 5, "columnPadding": 10
          }
        }
      }
    },
    {
      "data": {"name": "lower"},
      "mark": {"type": "line", "strokeWidth": 3, "strokeJoin": "round", "strokeCap": "round"},
      "encoding": {
        "x": {
          "field": "n", "type": "quantitative",
          "scale": {"domain": [1000, 2400], "nice": false, "zero": false},
          "axis": {
            "orient": "bottom", "offset": -357,
            "values": [1000,1100,1200,1300,1400,1500,1600,1700,1800,1900,2000,2100,2200,2300,2400],
            "format": "d",
            "grid": false, "ticks": false, "domain": true, "domainColor": "#BFBFBF", "domainWidth": 1.5,
            "labelFont": "DejaVu Serif", "labelFontSize": 21, "labelColor": "#595959",
            "labelPadding": 18, "labelOverlap": false, "labelFlush": false,
            "title": null
          }
        },
        "y": {"field": "v", "type": "quantitative"},
        "color": {"field": "s", "type": "nominal"}
      }
    }
  ]
}
